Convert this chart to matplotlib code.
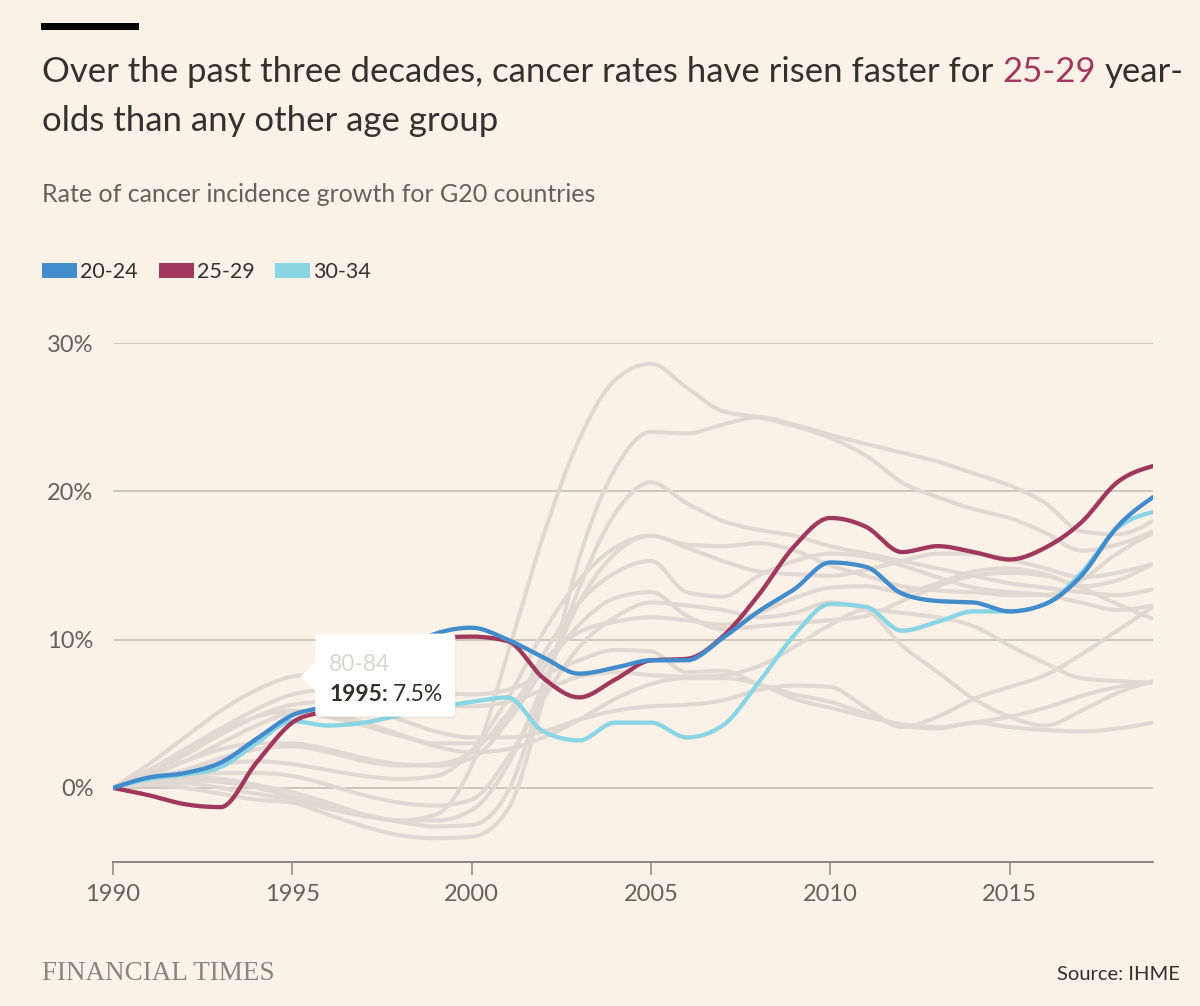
import numpy as np
import matplotlib
matplotlib.use('Agg')
import matplotlib.pyplot as plt
from matplotlib.patches import FancyBboxPatch, Polygon, Rectangle

# ---- data (% growth since 1990) ----
years = list(range(1990, 2020))

age_20_24 = [0, 0.7, 1.0, 1.7, 3.3, 4.9, 5.6, 7.2, 9.0, 10.4, 10.8, 10.0, 8.8, 7.7, 8.1,
             8.6, 8.6, 10.1, 11.9, 13.4, 15.2, 14.9, 13.1, 12.6, 12.5, 11.9, 12.4, 14.3, 17.6, 19.6]
age_25_29 = [0, -0.5, -1.1, -1.3, 1.7, 4.4, 5.3, 6.8, 8.6, 10.1, 10.2, 9.9, 7.4, 6.1, 7.3,
             8.6, 8.7, 10.2, 13.0, 16.3, 18.2, 17.6, 15.9, 16.3, 15.9, 15.4, 16.2, 17.9, 20.6, 21.7]
age_30_34 = [0, 0.6, 0.9, 1.4, 3.0, 4.5, 4.2, 4.4, 4.9, 5.4, 5.8, 6.1, 3.8, 3.2, 4.4,
             4.4, 3.4, 4.2, 7.1, 10.3, 12.4, 12.2, 10.6, 11.2, 11.9, 11.9, 12.4, 14.5, 17.5, 18.6]

# other age groups (drawn in grey)
age_80_84 = [0, 1.6, 3.4, 5.2, 6.6, 7.5, 7.7, 7.4, 6.9, 6.5, 6.3, 6.6, 7.6, 8.6, 9.3,
             9.2, 7.8, 7.9, 7.0, 6.3, 5.8, 5.0, 4.2, 4.0, 4.4, 4.1, 3.9, 3.8, 4.0, 4.4]
other_1 = [0, 0.3, 0.5, 0.4, 0.0, -0.6, -1.2, -1.8, -2.2, -1.8, 1.5, 9.0, 17.0, 23.5, 27.5,
           28.6, 27.0, 25.4, 25.0, 24.4, 23.6, 22.4, 20.6, 19.6, 18.8, 18.2, 17.2, 16.0, 16.4, 17.3]
other_2 = [0, 0.2, 0.0, -0.4, -0.8, -1.0, -1.8, -2.6, -3.2, -3.4, -3.3, -1.5, 6.0, 15.5, 21.5,
           24.0, 23.9, 24.5, 25.0, 24.5, 23.8, 23.2, 22.6, 22.0, 21.2, 20.4, 19.2, 17.3, 17.1, 18.0]
other_3 = [0, 0.4, 0.7, 0.6, 0.2, -0.3, -1.0, -1.8, -2.3, -2.6, -2.5, -0.3, 6.5, 13.5, 18.5,
           20.6, 19.2, 18.0, 17.4, 17.0, 16.3, 15.8, 15.3, 14.8, 14.3, 13.8, 13.5, 13.2, 13.0, 13.4]
other_4 = [0, 0.6, 1.2, 1.6, 1.8, 1.6, 1.2, 0.8, 0.6, 0.8, 2.5, 6.0, 10.5, 14.0, 16.2,
           17.0, 16.4, 16.3, 16.5, 16.0, 15.0, 14.3, 13.6, 13.3, 13.2, 13.0, 13.0, 14.0, 15.8, 17.2]
other_5 = [0, 0.3, 0.3, 0.0, -0.4, -0.8, -1.4, -1.9, -2.2, -2.2, -1.5, 1.5, 7.0, 12.5, 15.8,
           17.0, 16.2, 15.3, 14.6, 14.4, 14.3, 14.7, 15.3, 15.8, 15.8, 15.4, 14.8, 14.2, 14.5, 15.1]
other_6 = [0, 0.8, 1.8, 2.6, 3.0, 3.0, 2.6, 2.0, 1.6, 1.5, 2.0, 4.5, 9.0, 12.5, 14.5,
           15.3, 13.2, 12.9, 14.3, 15.3, 15.8, 15.6, 15.0, 14.2, 13.5, 13.2, 13.0, 12.5, 12.0, 12.3]
other_7 = [0, 1.0, 2.4, 3.8, 4.8, 5.2, 4.8, 4.2, 3.5, 3.0, 3.0, 4.5, 8.0, 11.0, 12.8,
           13.2, 11.6, 10.7, 10.9, 11.1, 11.3, 11.6, 12.6, 13.6, 14.3, 14.5, 14.3, 13.5, 12.4, 11.4]
other_8 = [0, 1.2, 2.6, 4.0, 5.3, 6.3, 6.6, 6.5, 6.0, 5.6, 5.5, 5.8, 6.6, 7.5, 7.8,
           7.6, 7.5, 7.6, 8.2, 9.5, 11.0, 12.0, 11.8, 11.5, 10.9, 9.6, 8.4, 7.4, 7.2, 7.1]
other_9 = [0, 1.0, 2.2, 3.6, 4.8, 5.6, 5.8, 5.4, 4.6, 3.8, 3.4, 3.4, 3.8, 4.6, 5.2,
           5.5, 5.6, 5.9, 6.6, 6.9, 6.8, 5.4, 4.1, 4.8, 6.0, 6.8, 7.6, 9.0, 10.6, 12.2]
other_10 = [0, 0.8, 1.8, 3.0, 4.2, 5.0, 5.0, 4.4, 3.6, 2.8, 2.4, 2.6, 3.4, 4.6, 6.0,
            7.0, 7.4, 7.4, 7.0, 6.0, 5.4, 4.8, 4.3, 4.1, 4.4, 4.8, 5.4, 6.2, 6.8, 7.1]
other_11 = [0, 0.5, 1.2, 2.0, 2.6, 2.8, 2.4, 1.8, 1.5, 1.6, 2.4, 5.0, 8.5, 10.5, 11.2,
            11.5, 11.3, 11.0, 11.8, 12.8, 13.5, 13.6, 13.2, 13.8, 14.6, 14.8, 14.4, 13.6, 14.0, 15.1]
other_12 = [0, 0.4, 0.8, 1.0, 1.0, 0.8, 0.2, -0.5, -1.0, -1.2, -0.8, 2.0, 6.0, 9.5, 11.5,
            12.5, 12.3, 12.0, 11.5, 11.8, 12.5, 12.0, 9.6, 7.8, 6.0, 4.8, 4.2, 5.2, 6.4, 7.2]
grey_series = [other_1, other_2, other_3, other_4, other_5, other_6, other_7,
               other_8, other_9, other_10, other_11, other_12, age_80_84]

highlight_labels = ['20-24', '25-29', '30-34']
y_ticks = [0, 10, 20, 30]
x_ticks = [1990, 1995, 2000, 2005, 2010, 2015]
tip_label = '80-84'
tip_year = 1995
tip_value = age_80_84[years.index(tip_year)]

# ---- style ----
W, H = 1200, 1006
BG = '#FCF1E6'
BLUE, RED, CYAN = '#428CCC', '#A0385E', '#8AD5E3'
GREY_LINE = '#E0D8D1'
TXT = '#33302E'
TXT2 = '#66605C'
FONT = ['Lato', 'DejaVu Sans']


def smooth(x, y, n=24):
    # monotone cubic (like d3 curveMonotoneX) just for drawing
    x = np.asarray(x, float)
    y = np.asarray(y, float)
    h = np.diff(x)
    d = np.diff(y) / h
    m = np.zeros_like(y)
    for i in range(1, len(y) - 1):
        s0, s1 = d[i - 1], d[i]
        if s0 * s1 <= 0:
            m[i] = 0
        else:
            p = (s0 * h[i] + s1 * h[i - 1]) / (h[i - 1] + h[i])
            m[i] = np.sign(s0) * min(abs(s0), abs(s1), 0.5 * abs(p)) * 2
    m[0] = (3 * d[0] - m[1]) / 2
    m[-1] = (3 * d[-1] - m[-2]) / 2
    xs, ys = [], []
    for i in range(len(x) - 1):
        t = np.linspace(0, 1, n, endpoint=False)
        h00 = 2 * t**3 - 3 * t**2 + 1
        h10 = t**3 - 2 * t**2 + t
        h01 = -2 * t**3 + 3 * t**2
        h11 = t**3 - t**2
        xs.append(x[i] + t * h[i])
        ys.append(h00 * y[i] + h10 * h[i] * m[i] + h01 * y[i + 1] + h11 * h[i] * m[i + 1])
    xs.append([x[-1]])
    ys.append([y[-1]])
    return np.concatenate(xs), np.concatenate(ys)


def fx(px):
    return px / W


def fy(py):
    return 1 - py / H


fig = plt.figure(figsize=(W / 100, H / 100), dpi=100, facecolor=BG)
renderer = fig.canvas.get_renderer()


def text_width(s, size, weight='normal', family=FONT):
    t = fig.text(0, 0, s, fontsize=size, fontweight=weight, family=family)
    w = t.get_window_extent(renderer).width
    t.remove()
    return w


def draw_runs(x, y, runs, size):
    # runs: list of (text, colour, weight); words joined with single spaces
    space = text_width('a a', size) - text_width('aa', size)
    for s, c, wgt in runs:
        fig.text(fx(x), fy(y), s, fontsize=size, color=c, fontweight=wgt,
                 family=FONT, va='baseline', ha='left')
        x += text_width(s, size, wgt) + space


# top black bar
fig.patches.append(Rectangle((fx(41), fy(30)), 98 / W, 7 / H, transform=fig.transFigure,
                             facecolor='black', edgecolor='none'))

# title, fitted to the width of the reference
line1 = [('Over the past three decades, cancer rates have risen faster for', TXT, 'normal'),
         ('25-29', RED, 'normal'), ('year-', TXT, 'normal')]
full1 = ' '.join(r[0] for r in line1)
tsize = 24 * 1141 / text_width(full1, 24)
draw_runs(42, 82, line1, tsize)
draw_runs(42, 131, [('olds than any other age group', TXT, 'normal')], tsize)

fig.text(fx(42), fy(202), 'Rate of cancer incidence growth for G20 countries',
         fontsize=18, color=TXT2, family=FONT, va='baseline')

# legend
leg_x = 42
for lab, col in zip(highlight_labels, [BLUE, RED, CYAN]):
    fig.patches.append(Rectangle((fx(leg_x), fy(278)), 35 / W, 15 / H,
                                 transform=fig.transFigure, facecolor=col, edgecolor='none'))
    fig.text(fx(leg_x + 38), fy(278), lab, fontsize=15.5, color=TXT, family=FONT, va='baseline')
    leg_x += 38 + text_width(lab, 15.5) + 21

# ---- chart ----
ax = fig.add_axes([fx(113), 1 - 862 / H, 1040 / W, 519 / H])
ax.set_facecolor('none')
ax.set_xlim(1990, 2019)
ax.set_ylim(-5, 30)

for s in grey_series:
    xs, ys = smooth(years, s)
    ax.plot(xs, ys, color=GREY_LINE, lw=2.9, solid_capstyle='round', zorder=2)
for s, col in [(age_30_34, CYAN), (age_25_29, RED), (age_20_24, BLUE)]:
    xs, ys = smooth(years, s)
    ax.plot(xs, ys, color=col, lw=3.1, solid_capstyle='round', zorder=3)

ax.set_yticks(y_ticks)
ax.set_yticklabels([f'{v}%' for v in y_ticks])
ax.yaxis.grid(True, color='#C2BAB2', lw=1.1, zorder=1)
ax.set_axisbelow(True)
ax.set_xticks(x_ticks)
ax.set_xticklabels([str(v) for v in x_ticks])
for side in ['top', 'right', 'left']:
    ax.spines[side].set_visible(False)
ax.spines['bottom'].set_color('#8C8580')
ax.spines['bottom'].set_linewidth(1.4)
ax.tick_params(axis='y', length=0, pad=14, labelsize=17, labelcolor=TXT2)
ax.tick_params(axis='x', length=9.5, width=1.1, color='#8C8580', pad=6,
               labelsize=17, labelcolor=TXT2)
for lab in ax.get_xticklabels() + ax.get_yticklabels():
    lab.set_family(FONT)

# ---- tooltip ----
tx, ty = ax.transData.transform((tip_year, tip_value))
tx, ty = tx + 8, H - ty  # pixel coords from top, pointer tip
box_l, box_t, box_w, box_h = tx + 15, ty - 43, 140, 83
shadow = FancyBboxPatch((fx(box_l + 1), fy(box_t + box_h + 2)), box_w / W, box_h / H,
                        boxstyle='round,pad=0,rounding_size=0.004', transform=fig.transFigure,
                        facecolor='#000000', alpha=0.05, edgecolor='none', zorder=5)
box = FancyBboxPatch((fx(box_l), fy(box_t + box_h)), box_w / W, box_h / H,
                     boxstyle='round,pad=0,rounding_size=0.004', transform=fig.transFigure,
                     facecolor='white', edgecolor='none', zorder=6)
arrow = Polygon([(fx(tx), fy(ty)), (fx(box_l + 1), fy(ty - 15)), (fx(box_l + 1), fy(ty + 15))],
                closed=True, transform=fig.transFigure, facecolor='white', edgecolor='none', zorder=6)
fig.patches.extend([shadow, box, arrow])
fig.text(fx(box_l + 14), fy(box_t + 37), tip_label, fontsize=16.5, color='#D9D5D1',
         family=FONT, va='baseline', zorder=7)
bold = f'{tip_year}:'
fig.text(fx(box_l + 14), fy(box_t + 67), bold, fontsize=16.5, color=TXT, fontweight='bold',
         family=FONT, va='baseline', zorder=7)
fig.text(fx(box_l + 14 + text_width(bold, 16.5, 'bold') + 5), fy(box_t + 67),
         f'{tip_value}%', fontsize=16.5, color=TXT, family=FONT, va='baseline', zorder=7)

# ---- footer ----
fig.text(fx(42), fy(980), 'FINANCIAL TIMES', fontsize=19.5, color='#8A837E',
         family=['Liberation Serif', 'DejaVu Serif'], va='baseline')
fig.text(fx(1180), fy(980), 'Source: IHME', fontsize=14.5, color=TXT, family=FONT,
         va='baseline', ha='right')

fig.savefig('out.png', dpi=100, facecolor=BG)
